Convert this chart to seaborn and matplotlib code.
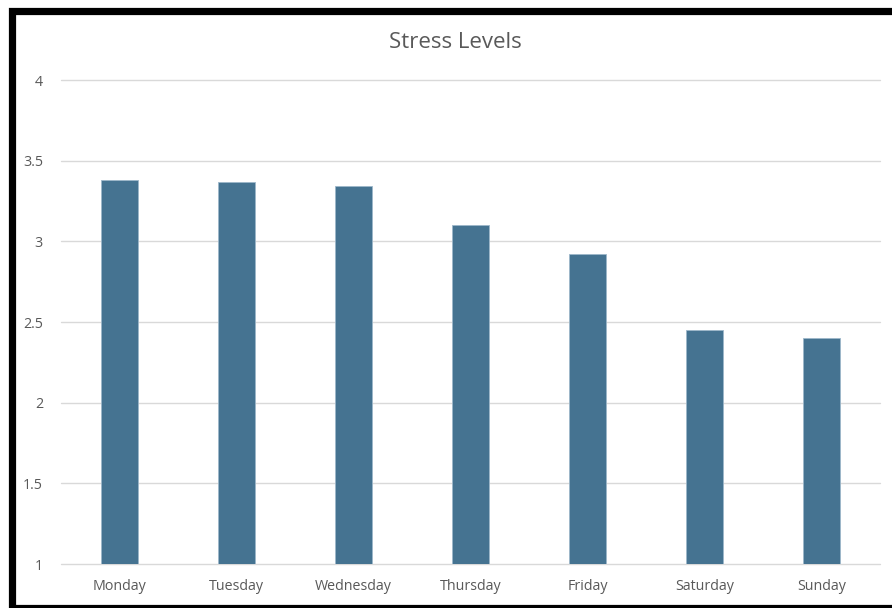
import matplotlib
matplotlib.use("Agg")
import matplotlib.pyplot as plt
from matplotlib.patches import Rectangle
import seaborn as sns
import pandas as pd

days = ["Monday", "Tuesday", "Wednesday", "Thursday", "Friday", "Saturday", "Sunday"]
stress = [3.38, 3.37, 3.34, 3.10, 2.92, 2.45, 2.40]
y_ticks = [1, 1.5, 2, 2.5, 3, 3.5, 4]
y_tick_labels = ["1", "1.5", "2", "2.5", "3", "3.5", "4"]

df = pd.DataFrame({"day": days, "stress": stress})

sns.set_theme(style="white")
plt.rcParams["font.family"] = ["Open Sans", "DejaVu Sans"]

fig = plt.figure(figsize=(8.92, 6.08), dpi=100)
ax = fig.add_axes([61 / 892, 1 - 564 / 608, (880 - 61) / 892, (564 - 80) / 608])

sns.barplot(data=df, x="day", y="stress", color="#457391", width=0.315,
            saturation=1, edgecolor="#9db7ca", linewidth=0.6, ax=ax, zorder=3)

ax.set_ylim(1, 4)
ax.set_yticks(y_ticks)
ax.set_yticklabels(y_tick_labels)
ax.set_xlim(-0.5, len(days) - 0.5)
ax.grid(axis="y", color="#d9d9d9", linewidth=1.0, zorder=0)
for gl in ax.get_ygridlines():
    gl.set_clip_on(False)
ax.set_axisbelow(True)
for s in ax.spines.values():
    s.set_visible(False)
ax.set_xlabel("")
ax.set_ylabel("")
ax.tick_params(axis="both", length=0, colors="#595959", labelsize=10.3)
ax.tick_params(axis="y", pad=13)
ax.tick_params(axis="x", pad=11)

fig.text(455.5 / 892, 1 - 42 / 608, "Stress Levels", ha="center", va="center",
         fontsize=16, color="#595959")

# Black frame around the chart area
frame = Rectangle((11.5 / 892, 1 - 607.5 / 608), 1.0, (607.5 - 10.5) / 608,
                  transform=fig.transFigure, fill=False, edgecolor="black",
                  linewidth=5.2, clip_on=False)
fig.patches.append(frame)

fig.savefig("out.png", dpi=100)
